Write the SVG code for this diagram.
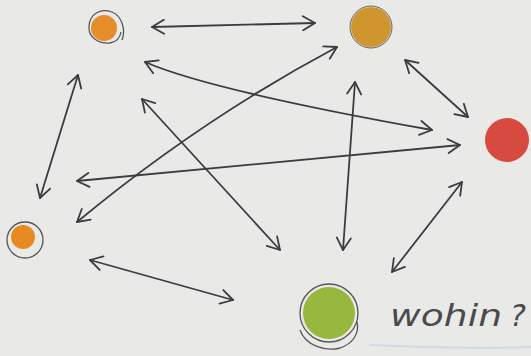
<svg xmlns="http://www.w3.org/2000/svg" width="531" height="356" viewBox="0 0 531 356">
<style>
.ink{fill:none;stroke:#3b3c42;stroke-width:1.8;stroke-linecap:round;stroke-linejoin:round}
.thin{fill:none;stroke:#55565a;stroke-width:1.3}
.lbl{font-family:"DejaVu Sans",sans-serif;font-size:30px;fill:#4a4a4e;font-style:italic}
</style>
<defs>
<marker id="ah" viewBox="-14 -8 16 16" refX="0" refY="0" markerWidth="16" markerHeight="16" markerUnits="userSpaceOnUse" orient="auto-start-reverse">
<path d="M-12,-7 L0,0 L-12,7" fill="none" stroke="#3b3c42" stroke-width="1.8" stroke-linecap="round" stroke-linejoin="round"/>
</marker>
</defs>
<rect width="531" height="356" fill="#e9eae7"/>
<g id="connectors">
<path class="ink" d="M152,27 L315,23" marker-start="url(#ah)" marker-end="url(#ah)"/>
<path class="ink" d="M145,62 C200,86 320,110 432,130" marker-start="url(#ah)" marker-end="url(#ah)"/>
<path class="ink" d="M337,47 Q200,120 77,222" marker-start="url(#ah)" marker-end="url(#ah)"/>
<path class="ink" d="M142,99 L280,250" marker-start="url(#ah)" marker-end="url(#ah)"/>
<path class="ink" d="M77,181 Q270,163 460,145" marker-start="url(#ah)" marker-end="url(#ah)"/>
<path class="ink" d="M78,75 L40,198" marker-start="url(#ah)" marker-end="url(#ah)"/>
<path class="ink" d="M355,82 L343,250" marker-start="url(#ah)" marker-end="url(#ah)"/>
<path class="ink" d="M405,60 L468,117" marker-start="url(#ah)" marker-end="url(#ah)"/>
<path class="ink" d="M462,182 L392,272" marker-start="url(#ah)" marker-end="url(#ah)"/>
<path class="ink" d="M90,260 L233,300" marker-start="url(#ah)" marker-end="url(#ah)"/>
</g>
<g id="node-topleft">
<circle cx="104" cy="28" r="13" fill="#e58d2b"/>
<path class="thin" d="M122,40 C126,30 122,16 112,12 C100,8 90,14 89,26 C88,37 98,44 110,43 C116,42 120,38 121,32"/>
</g>
<g id="node-topright">
<circle cx="371" cy="27" r="20" fill="#cf962f"/>
<circle cx="371" cy="27" r="21" fill="none" stroke="#6a6058" stroke-width="1"/>
</g>
<g id="node-right">
<circle cx="507" cy="140" r="22" fill="#d64a40"/>
<circle cx="507" cy="140" r="23" fill="none" stroke="#f2e6e2" stroke-width="1.2"/>
</g>
<g id="node-left">
<circle cx="23" cy="237" r="12" fill="#e88a22"/>
<circle class="thin" cx="25" cy="240" r="18"/>
</g>
<g id="node-bottom">
<circle cx="329" cy="313" r="26" fill="#97b83c"/>
<circle class="thin" cx="329" cy="313" r="29"/>
<path class="thin" d="M300,330 C305,345 325,352 340,348 C352,344 360,334 357,322"/>
<text class="lbl" x="390" y="326" textLength="112" lengthAdjust="spacingAndGlyphs">wohin</text>
<text class="lbl" x="510" y="326" font-size="26">?</text>
</g>
<path d="M370,345 Q450,349 531,347" fill="none" stroke="#bcd0e6" stroke-width="2" opacity="0.6"/>
</svg>
